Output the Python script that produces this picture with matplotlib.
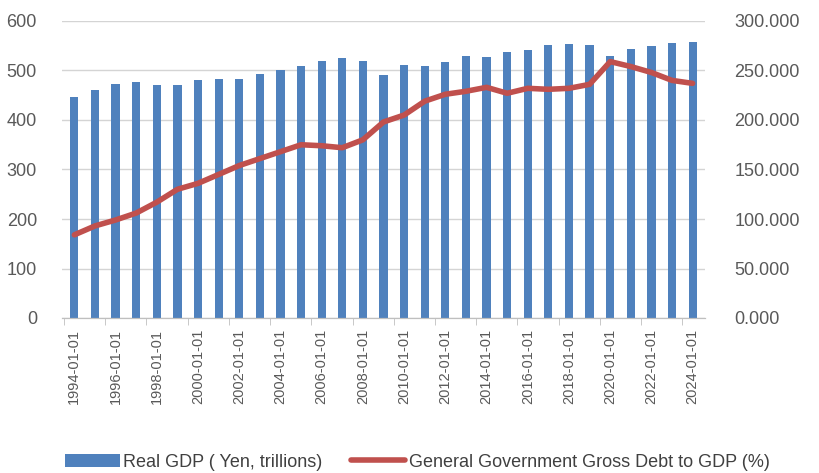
#!/usr/bin/env python3
"""Japan real GDP vs general government gross debt to GDP, 1994-2024."""

import matplotlib.pyplot as plt
import numpy as np

years = list(range(1994, 2025))
real_gdp = [446, 460, 472, 477, 470, 470, 481, 483, 483, 492, 501, 510, 519, 526, 519,
            490, 511, 510, 517, 529, 528, 537, 542, 551, 553, 551, 529, 543, 549, 556, 558]
debt_to_gdp = [84, 93, 99, 106, 117, 130, 136, 145, 154, 161, 168, 175, 174, 172, 180,
               198, 205, 219, 226, 229, 233, 227, 232, 231, 232, 236, 259, 254, 248, 240, 237]
tick_labels = [f'{y}-01-01' for y in years]

plt.rcParams['font.family'] = ['Liberation Sans', 'DejaVu Sans']

fig = plt.figure(figsize=(8.19, 4.73), dpi=100)
ax1 = fig.add_axes([62 / 819, 1 - 318 / 473, (705 - 62) / 819, (318 - 21) / 473])
ax2 = ax1.twinx()

x = np.arange(len(years))
ax1.bar(x, real_gdp, width=0.4, color='#4f81bd', label='Real GDP ( Yen, trillions)', zorder=2)
ax2.plot(x, debt_to_gdp, color='#c0504d', linewidth=4, solid_capstyle='round',
         label='General Government Gross Debt to GDP (%)', zorder=3)

ax1.set_ylim(0, 600)
ax1.set_yticks(range(0, 601, 100))
ax2.set_ylim(0, 300)
ax2.set_yticks(range(0, 301, 50))
ax2.set_yticklabels([f'{v:.3f}' for v in range(0, 301, 50)])
ax1.set_xlim(-0.6, len(years) - 0.4)

ax1.set_xticks(x[::2])
ax1.set_xticklabels(tick_labels[::2], rotation=90, fontsize=10.5, color='#595959')
ax1.set_xticks(np.arange(-0.5, len(years), 2), minor=True)
ax1.tick_params(axis='x', which='major', length=0, pad=8)
ax1.tick_params(axis='x', which='minor', length=5, color='#bfbfbf')

ax1.grid(axis='y', color='#d4d4d4', linewidth=1, zorder=0)
ax1.set_axisbelow(True)
for ax in (ax1, ax2):
    for side in ('top', 'left', 'right'):
        ax.spines[side].set_visible(False)
    ax.spines['bottom'].set_color('#bfbfbf')
    ax.tick_params(axis='y', length=0, labelsize=13, labelcolor='#595959')
ax1.tick_params(axis='y', pad=18)
ax2.tick_params(axis='y', pad=21)

h1, l1 = ax1.get_legend_handles_labels()
h2, l2 = ax2.get_legend_handles_labels()
fig.legend(h1 + h2, l1 + l2, loc='center', bbox_to_anchor=(0.51, 0.023), ncol=2,
           frameon=False, fontsize=13, labelcolor='#404040', handlelength=3.0,
           handleheight=0.8, handletextpad=0.2, columnspacing=1.6)

plt.savefig('out.png', dpi=100)
